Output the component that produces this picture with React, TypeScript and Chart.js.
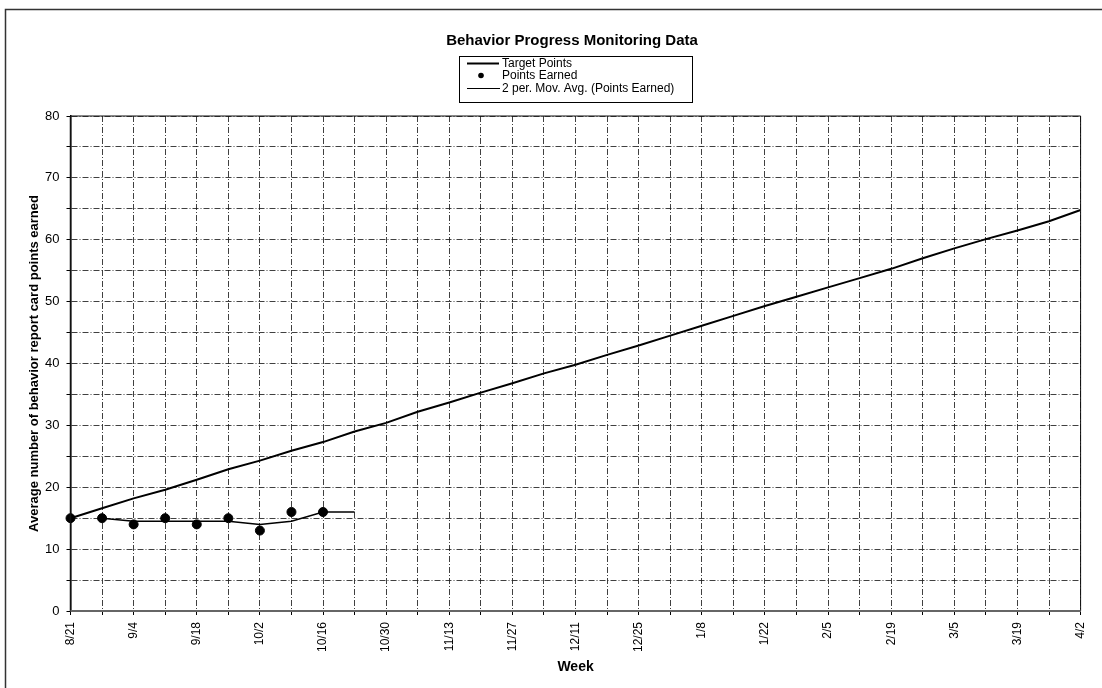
import React, { useEffect, useRef } from "react";
import { Chart, registerables } from "chart.js";

Chart.register(...registerables);

const weeks = [
  "8/21", "8/28", "9/4", "9/11", "9/18", "9/25", "10/2", "10/9", "10/16", "10/23",
  "10/30", "11/6", "11/13", "11/20", "11/27", "12/4", "12/11", "12/18", "12/25", "1/1",
  "1/8", "1/15", "1/22", "1/29", "2/5", "2/12", "2/19", "2/26", "3/5", "3/12",
  "3/19", "3/26", "4/2",
];

const targetPoints = [
  15, 16.6, 18.2, 19.6, 21.2, 22.9, 24.3, 25.9, 27.3, 29.0,
  30.4, 32.2, 33.7, 35.3, 36.8, 38.4, 39.8, 41.4, 42.9, 44.5,
  46.1, 47.7, 49.3, 50.8, 52.3, 53.8, 55.3, 57.0, 58.6, 60.1,
  61.5, 63.0, 64.8,
];

const pointsEarned: (number | null)[] = [15, 15, 14, 15, 14, 15, 13, 16, 16];

const movingAvg: (number | null)[] = [null, 15, 14.5, 14.5, 14.5, 14.5, 14, 14.5, 16, 16];

const yTicks = [0, 10, 20, 30, 40, 50, 60, 70, 80];

const chartTitle = "Behavior Progress Monitoring Data";
const yTitle = "Average number of behavior report card points earned";
const xTitle = "Week";

const FONT = "'Liberation Sans', Arial, sans-serif";

const decorPlugin = {
  id: "decor",
  afterDraw(chart: any) {
    const ctx = chart.ctx as CanvasRenderingContext2D;
    const ca = chart.chartArea;
    ctx.save();
    // outer frame
    ctx.strokeStyle = "#333";
    ctx.lineWidth = 1.5;
    ctx.setLineDash([]);
    ctx.strokeRect(5.5, 9.5, 1200, 900);

    // plot border
    ctx.strokeStyle = "#111";
    ctx.lineWidth = 1;
    ctx.beginPath();
    ctx.moveTo(ca.left, ca.top);
    ctx.lineTo(ca.right, ca.top);
    ctx.lineTo(ca.right, ca.bottom);
    ctx.stroke();
    ctx.lineWidth = 1.5;
    ctx.beginPath();
    ctx.moveTo(ca.left, ca.top);
    ctx.lineTo(ca.left, ca.bottom);
    ctx.stroke();
    ctx.strokeStyle = "#666";
    ctx.lineWidth = 2;
    ctx.beginPath();
    ctx.moveTo(ca.left, ca.bottom);
    ctx.lineTo(ca.right, ca.bottom);
    ctx.stroke();

    // title
    ctx.fillStyle = "#000";
    ctx.font = `bold 15px ${FONT}`;
    ctx.textAlign = "center";
    ctx.textBaseline = "middle";
    ctx.fillText(chartTitle, 572, 41);

    // legend
    const ds = chart.data.datasets;
    ctx.strokeStyle = "#000";
    ctx.lineWidth = 1;
    ctx.strokeRect(459.5, 56.5, 233, 46);
    ctx.font = `12px ${FONT}`;
    ctx.textAlign = "left";
    ctx.textBaseline = "middle";
    // row 1
    ctx.lineWidth = 2;
    ctx.beginPath();
    ctx.moveTo(467, 63.5);
    ctx.lineTo(499, 63.5);
    ctx.stroke();
    ctx.fillText(ds[0].label, 502, 64);
    // row 2
    ctx.beginPath();
    ctx.arc(481, 75.5, 2.8, 0, Math.PI * 2);
    ctx.fill();
    ctx.fillText(ds[1].label, 502, 76);
    // row 3
    ctx.lineWidth = 1.2;
    ctx.beginPath();
    ctx.moveTo(467, 88.5);
    ctx.lineTo(500, 88.5);
    ctx.stroke();
    ctx.fillText(ds[2].label, 502, 88.5);
    ctx.restore();
  },
};

export default function App() {
  const ref = useRef<HTMLCanvasElement | null>(null);

  useEffect(() => {
    if (!ref.current) return;
    const chart = new Chart(ref.current, {
      type: "line",
      data: {
        labels: weeks,
        datasets: [
          {
            label: "Target Points",
            data: targetPoints,
            borderColor: "#000",
            borderWidth: 2,
            pointRadius: 0,
            tension: 0,
          },
          {
            label: "Points Earned",
            data: pointsEarned,
            showLine: false,
            pointRadius: 4.5,
            pointBackgroundColor: "#000",
            pointBorderColor: "#000",
            borderColor: "#000",
          },
          {
            label: "2 per. Mov. Avg. (Points Earned)",
            data: movingAvg,
            borderColor: "#000",
            borderWidth: 1.5,
            pointRadius: 0,
            tension: 0,
          },
        ],
      },
      options: {
        responsive: false,
        animation: false,
        devicePixelRatio: 1,
        layout: { padding: { left: 0, right: 16, top: 116, bottom: 0 } },
        plugins: {
          legend: { display: false },
          title: { display: false },
          tooltip: { enabled: false },
        },
        scales: {
          x: {
            type: "category",
            offset: false,
            grid: {
              color: "rgba(30,30,30,0.85)",
              lineWidth: 1,
              tickLength: 4,
              tickColor: "#000",
              tickBorderDash: [],
            },
            border: { display: true, color: "#666", width: 2, dash: [6, 2, 1, 2] },
            ticks: {
              autoSkip: false,
              maxRotation: 90,
              minRotation: 90,
              padding: 7,
              color: "#000",
              font: { family: FONT, size: 12 },
              callback: (_v: any, i: number) => (i % 2 === 0 ? weeks[i] : ""),
            },
            title: {
              display: true,
              text: xTitle,
              color: "#000",
              font: { family: FONT, size: 14, weight: "bold" },
              padding: { top: 0, bottom: 12 },
            },
            afterFit: (scale: any) => {
              scale.height = 77;
            },
          },
          y: {
            min: 0,
            max: 80,
            grid: {
              color: "rgba(30,30,30,0.85)",
              lineWidth: 1,
              tickLength: 4,
              tickColor: "#000",
              tickBorderDash: [],
            },
            border: { display: true, color: "#000", width: 1.5, dash: [6, 2, 1, 2] },
            ticks: {
              stepSize: 5,
              padding: 7,
              color: "#000",
              font: { family: FONT, size: 13 },
              callback: (v: any) => (yTicks.includes(Number(v)) ? String(v) : ""),
            },
            title: {
              display: true,
              text: yTitle,
              color: "#000",
              font: { family: FONT, size: 13, weight: "bold" },
              padding: { top: 27, bottom: 0 },
            },
            afterFit: (scale: any) => {
              scale.width = 70.5;
            },
          },
        },
      },
      plugins: [decorPlugin],
    });
    return () => chart.destroy();
  }, []);

  return (
    <div style={{ position: "fixed", left: 0, top: 0, width: 1102, height: 688, background: "#fff" }}>
      <canvas ref={ref} width={1102} height={688} style={{ display: "block" }} />
    </div>
  );
}
